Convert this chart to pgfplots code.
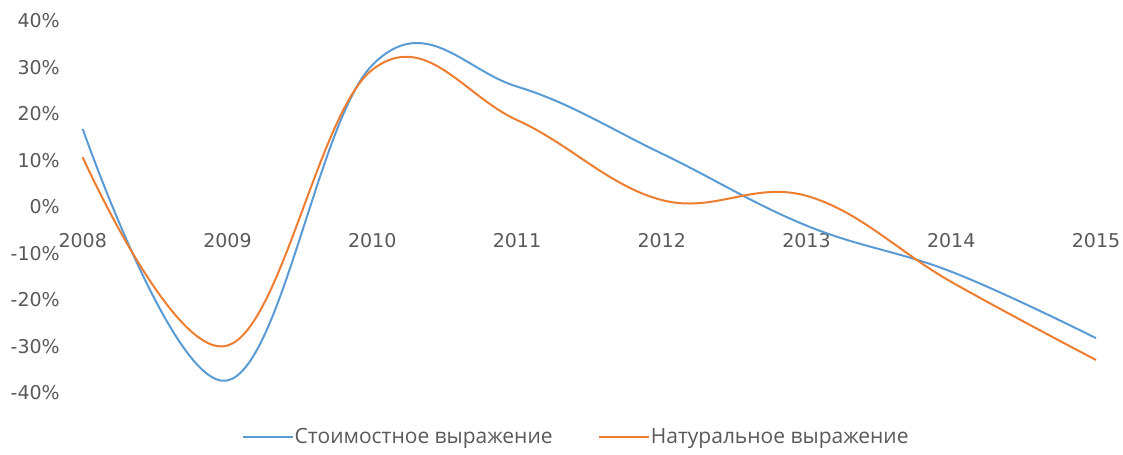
\documentclass[border=0pt]{standalone}
\usepackage{pgfplots}
\pgfplotsset{compat=1.18}
\usepackage{fontspec}
\setmainfont{DejaVu Sans}
\newfontfamily\legfont{Open Sans}
\definecolor{cblue}{HTML}{5B9BD5}
\definecolor{corange}{HTML}{ED7D31}
\definecolor{ctext}{HTML}{595959}
\begin{document}
\begin{tikzpicture}
\useasboundingbox (0,0) rectangle (1123bp,455bp);
\begin{axis}[
  at={(82.7bp,62bp)}, anchor=south west,
  scale only axis, width=1013.3bp, height=372bp,
  xmin=2008, xmax=2015, ymin=-40, ymax=40,
  axis x line=middle, axis y line=left,
  axis line style={draw=none},
  hide obscured x ticks=false, hide obscured y ticks=false,
  major tick length=0pt,
  clip=false,
  xtick={2008,2009,2010,2011,2012,2013,2014,2015},
  xticklabels={2008,2009,2010,2011,2012,2013,2014,2015},
  ytick={-40,-30,-20,-10,0,10,20,30,40},
  yticklabels={-40\%,-30\%,-20\%,-10\%,0\%,10\%,20\%,30\%,40\%},
  tick label style={font=\fontsize{19bp}{22bp}\selectfont, text=ctext},
  xticklabel style={anchor=north, inner sep=0pt, yshift=-26bp},
  yticklabel style={anchor=east, inner sep=0pt, xshift=-22.7bp},
  legend columns=2,
  legend style={at={(0.4868,-0.118)}, anchor=center, draw=none, fill=none,
    font=\legfont\fontsize{21bp}{24bp}\selectfont, text=ctext,
    /tikz/every even column/.append style={column sep=44bp},
    inner sep=0pt, nodes={inner sep=1.5bp}},
  legend image code/.code={\draw[#1, line width=1.3bp] (0bp,0bp) -- (50bp,0bp);},
]
\addplot[cblue, line width=2bp, smooth, tension=0.66] coordinates {
  (2008,16.8) (2009,-37.3) (2010,30.5) (2011,25.9) (2012,11.5) (2013,-4.0) (2014,-13.9) (2015,-28.2)};
\addlegendentry{Стоимостное выражение}
\addplot[corange, line width=2bp, smooth, tension=0.66] coordinates {
  (2008,10.7) (2009,-29.8) (2010,29.5) (2011,18.7) (2012,1.5) (2013,2.4) (2014,-16.1) (2015,-32.9)};
\addlegendentry{Натуральное выражение}
\end{axis}
\end{tikzpicture}
\end{document}
